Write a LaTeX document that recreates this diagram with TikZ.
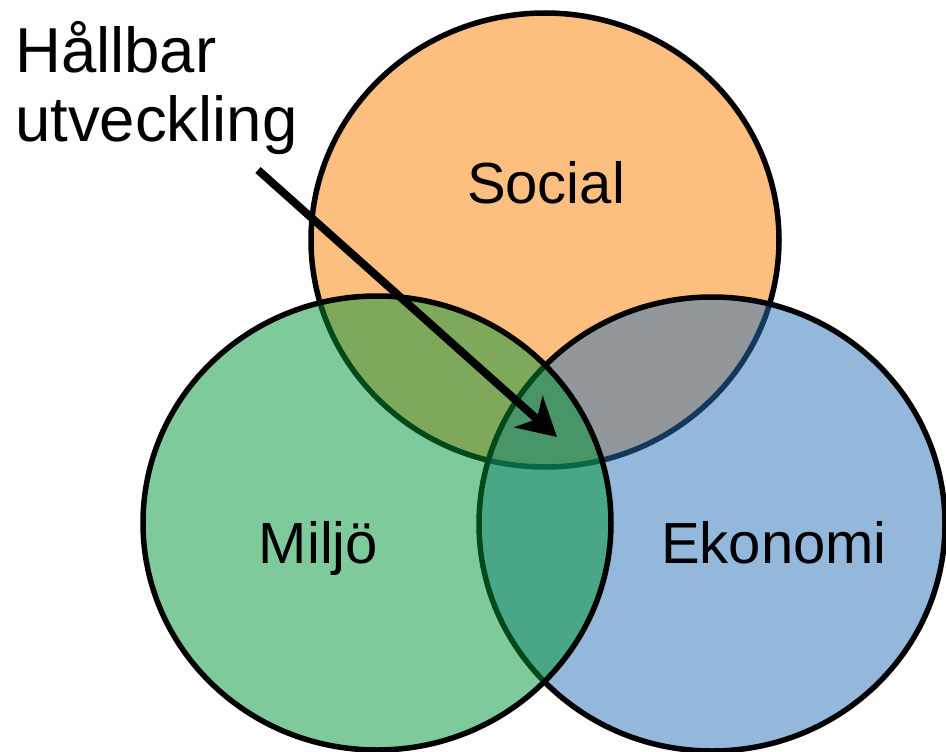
\documentclass[tikz,border=0pt]{standalone}
\usepackage{fontspec}
\setmainfont{Liberation Sans}
\usetikzlibrary{arrows.meta}
\definecolor{socialc}{RGB}{253,191,128}
\definecolor{miljoc}{RGB}{0,149,53}
\definecolor{ekonc}{RGB}{39,113,183}
\tikzset{
  ring/.style={draw=black, line width=5.5pt, draw opacity=1},
  title/.style={font=\fontsize{63.5}{70}\selectfont, inner sep=0pt, anchor=base west},
  lbl/.style={font=\fontsize{58}{64}\selectfont, inner sep=0pt, anchor=base},
  pointer/.style={draw=black, line width=8pt, -{Stealth[length=38pt,width=42pt,inset=11pt]}}
}
\begin{document}
\begin{tikzpicture}[x=1pt,y=-1pt]
\useasboundingbox (0,0) rectangle (946,752);
% circles: Social at bottom, then Ekonomi, then Miljo on top
\path[ring, fill=socialc] (545,240) ellipse [x radius=234, y radius=227];
\path[ring, fill=ekonc, fill opacity=0.5] (712,524) ellipse [x radius=233, y radius=227];
\path[ring, fill=miljoc, fill opacity=0.5] (377,523) ellipse [x radius=234, y radius=227];
% labels
\node[lbl] (social) at (546,203) {Social};
\node[lbl] (miljo) at (318.5,563) {Miljö};
\node[lbl] (ekonomi) at (774,563) {Ekonomi};
\node[title] (t1) at (15,73) {Hållbar};
\node[title] (t2) at (15,142) {utveckling};
% arrow
\coordinate (tail) at (258,170);
\coordinate (tip) at (557,437);
\draw[pointer] (tail) -- (tip);
\end{tikzpicture}
\end{document}
